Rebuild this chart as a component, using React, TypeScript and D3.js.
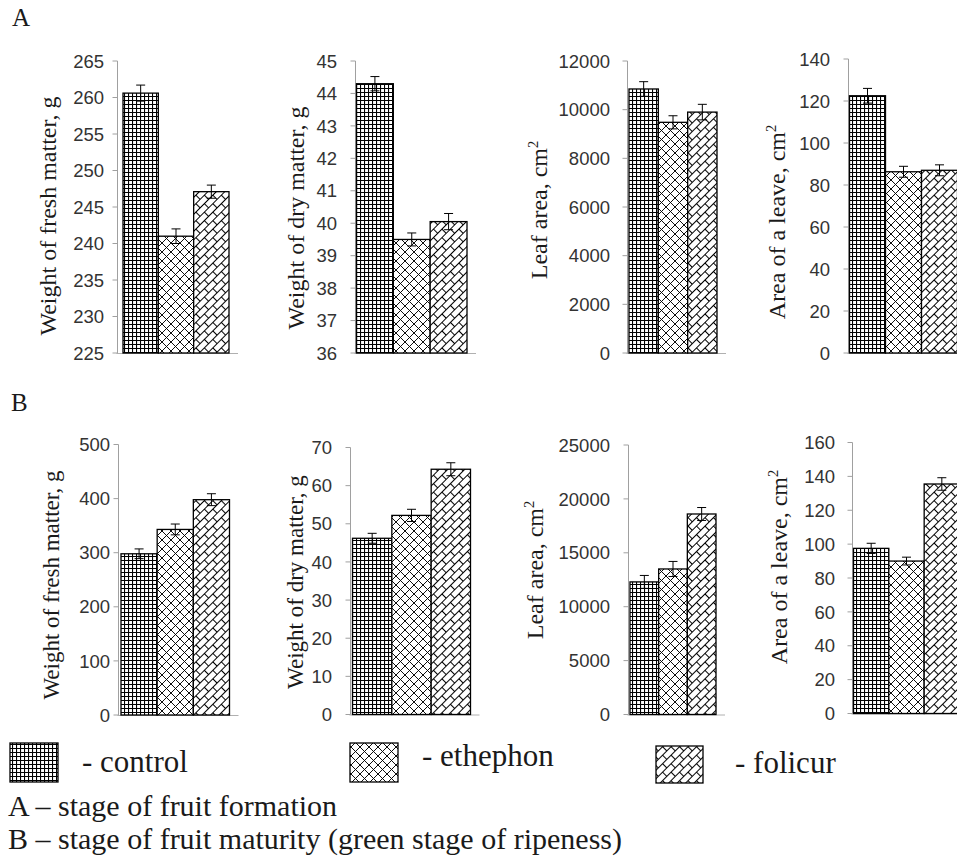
import React from "react";
import * as d3 from "d3";

// ---------- data ----------
const categories = ["control", "ethephon", "folicur"];

const freshA = [260.6, 241.0, 247.1];
const freshAErr = [1.1, 1.0, 0.9];
const dryA = [44.3, 39.5, 40.05];
const dryAErr = [0.22, 0.2, 0.25];
const leafAreaA = [10850, 9480, 9900];
const leafAreaAErr = [300, 270, 320];
const leaveAreaA = [122.5, 86.3, 87.0];
const leaveAreaAErr = [3.5, 2.6, 2.6];

const freshB = [298, 343, 398];
const freshBErr = [9, 10, 11];
const dryB = [46.2, 52.2, 64.3];
const dryBErr = [1.3, 1.6, 1.7];
const leafAreaB = [12300, 13500, 18600];
const leafAreaBErr = [600, 700, 600];
const leaveAreaB = [97.5, 90.0, 135.5];
const leaveAreaBErr = [3.0, 2.3, 3.7];

const ticksFreshA = [225, 230, 235, 240, 245, 250, 255, 260, 265];
const ticksDryA = [36, 37, 38, 39, 40, 41, 42, 43, 44, 45];
const ticksLeafA = [0, 2000, 4000, 6000, 8000, 10000, 12000];
const ticksLeaveA = [0, 20, 40, 60, 80, 100, 120, 140];
const ticksFreshB = [0, 100, 200, 300, 400, 500];
const ticksDryB = [0, 10, 20, 30, 40, 50, 60, 70];
const ticksLeafB = [0, 5000, 10000, 15000, 20000, 25000];
const ticksLeaveB = [0, 20, 40, 60, 80, 100, 120, 140, 160];

const legendLabels = ["- control", "- ethephon", "- folicur"];
const captionA = "A \u2013 stage of fruit formation";
const captionB = "B \u2013 stage of fruit maturity (green stage of ripeness)";

// ---------- layout ----------
type Panel = {
  values: number[];
  errs: number[];
  ticks: number[];
  label: string;
  sup: boolean;
  axisX: number;
  yTop: number;
  yBottom: number;
  barStart: number;
  barEnd: number;
  labelRight: number;
  ylabX: number;
  ylabY: number;
  ylabSize: number;
};

const panels: Panel[] = [
  { values: freshA, errs: freshAErr, ticks: ticksFreshA, label: "Weight of fresh matter, g", sup: false,
    axisX: 117.5, yTop: 61, yBottom: 353, barStart: 123, barEnd: 229, labelRight: 104, ylabX: 56, ylabY: 216, ylabSize: 24 },
  { values: dryA, errs: dryAErr, ticks: ticksDryA, label: "Weight of dry matter, g", sup: false,
    axisX: 355.5, yTop: 61, yBottom: 353, barStart: 356.5, barEnd: 467, labelRight: 337, ylabX: 304, ylabY: 218, ylabSize: 24 },
  { values: leafAreaA, errs: leafAreaAErr, ticks: ticksLeafA, label: "Leaf area, cm", sup: true,
    axisX: 627.5, yTop: 61, yBottom: 353, barStart: 629, barEnd: 717, labelRight: 610, ylabX: 547, ylabY: 210, ylabSize: 24 },
  { values: leaveAreaA, errs: leaveAreaAErr, ticks: ticksLeaveA, label: "Area of a leave, cm", sup: true,
    axisX: 848.5, yTop: 59, yBottom: 353, barStart: 849.5, barEnd: 957.5, labelRight: 830, ylabX: 785, ylabY: 222, ylabSize: 24 },
  { values: freshB, errs: freshBErr, ticks: ticksFreshB, label: "Weight of fresh matter, g", sup: false,
    axisX: 118.5, yTop: 444.5, yBottom: 715, barStart: 121, barEnd: 229.5, labelRight: 110, ylabX: 59, ylabY: 585, ylabSize: 23 },
  { values: dryB, errs: dryBErr, ticks: ticksDryB, label: "Weight of dry matter, g", sup: false,
    axisX: 350.5, yTop: 447.5, yBottom: 714.5, barStart: 352.5, barEnd: 470.5, labelRight: 332, ylabX: 303, ylabY: 582, ylabSize: 23 },
  { values: leafAreaB, errs: leafAreaBErr, ticks: ticksLeafB, label: "Leaf area, cm", sup: true,
    axisX: 628.5, yTop: 445, yBottom: 714.5, barStart: 630, barEnd: 716, labelRight: 610, ylabX: 543, ylabY: 570, ylabSize: 24 },
  { values: leaveAreaB, errs: leaveAreaBErr, ticks: ticksLeaveB, label: "Area of a leave, cm", sup: true,
    axisX: 852.5, yTop: 442.5, yBottom: 713.5, barStart: 853.5, barEnd: 959.5, labelRight: 835, ylabX: 787, ylabY: 567, ylabSize: 24 },
];

const patternIds = ["pGrid", "pCross", "pBrick"];
const fontSans = "'Liberation Sans', Arial, sans-serif";
const fontSerif = "'Liberation Serif', 'Times New Roman', serif";

function PanelView({ p }: { p: Panel }) {
  const y = d3
    .scaleLinear()
    .domain([p.ticks[0], p.ticks[p.ticks.length - 1]])
    .range([p.yBottom, p.yTop]);
  const x = d3.scaleBand<string>().domain(categories).range([p.barStart, p.barEnd]).padding(0);
  const bw = x.bandwidth();
  return (
    <g>
      <line x1={p.axisX} x2={p.axisX} y1={p.yTop} y2={p.yBottom} stroke="#a0a0a0" strokeWidth={1} />
      <line x1={p.axisX - 1} x2={p.barEnd + 9} y1={p.yBottom + 0.5} y2={p.yBottom + 0.5} stroke="#b0b0b0" strokeWidth={1} />
      {p.ticks.map((t) => (
        <g key={t}>
          <line x1={p.axisX - 5} x2={p.axisX} y1={y(t)} y2={y(t)} stroke="#a0a0a0" strokeWidth={1} />
          <text x={p.labelRight} y={y(t)} dy="0.36em" textAnchor="end" fontFamily={fontSans} fontSize={18.5} fill="#333">
            {t}
          </text>
        </g>
      ))}
      {categories.map((c, i) => (
        <rect
          key={c}
          x={x(c)}
          y={y(p.values[i])}
          width={bw}
          height={p.yBottom - y(p.values[i])}
          fill={`url(#${patternIds[i]})`}
          stroke="#000"
          strokeWidth={1.3}
        />
      ))}
      {categories.map((c, i) => {
        const cx = (x(c) as number) + bw / 2;
        const y1 = y(p.values[i] + p.errs[i]);
        const y2 = y(p.values[i] - p.errs[i]);
        return (
          <g key={c + "e"} stroke="#000" strokeWidth={1}>
            <line x1={cx} x2={cx} y1={y1} y2={y2} />
            <line x1={cx - 4.5} x2={cx + 4.5} y1={y1} y2={y1} />
            <line x1={cx - 4.5} x2={cx + 4.5} y1={y2} y2={y2} />
          </g>
        );
      })}
      <text
        transform={`translate(${p.ylabX},${p.ylabY}) rotate(-90)`}
        textAnchor="middle"
        fontFamily={fontSerif}
        fontSize={p.ylabSize}
        fill="#1a1a1a"
      >
        {p.label}
        {p.sup ? (
          <tspan dy={-9} fontSize={p.ylabSize * 0.6}>
            2
          </tspan>
        ) : null}
      </text>
    </g>
  );
}

export default function App() {
  const swatches = [
    { x: 10, y: 743, w: 48, h: 39, tx: 82, ty: 772 },
    { x: 350, y: 743, w: 48, h: 39, tx: 422, ty: 766 },
    { x: 656, y: 746, w: 47, h: 37, tx: 735, ty: 773 },
  ];
  return (
    <div style={{ position: "absolute", left: 0, top: 0 }}>
      <svg width={957} height={859} style={{ display: "block", background: "#fff" }}>
        <defs>
          <pattern id="pGrid" patternUnits="userSpaceOnUse" width={4} height={4}>
            <rect width={4} height={4} fill="#fff" />
            <path d="M0 0.5H4M0.5 0V4" stroke="#000" strokeWidth={1.15} />
          </pattern>
          <pattern id="pCross" patternUnits="userSpaceOnUse" width={9} height={9}>
            <rect width={9} height={9} fill="#fff" />
            <path d="M-1 -1L10 10M10 -1L-1 10" stroke="#000" strokeWidth={0.95} />
          </pattern>
          <pattern id="pBrick" patternUnits="userSpaceOnUse" width={12} height={12} patternTransform="rotate(-45)">
            <rect width={12} height={12} fill="#fff" />
            <path
              d="M-1 0.5H13M-1 6.5H13M0.5 0V6.5M6.5 6.5V12"
              stroke="#000"
              strokeWidth={1.05}
            />
          </pattern>
        </defs>

        <text x={12} y={26} fontFamily={fontSerif} fontSize={25} fill="#1a1a1a">A</text>
        <text x={11} y={411} fontFamily={fontSerif} fontSize={25} fill="#1a1a1a">B</text>

        {panels.map((p, i) => (
          <PanelView key={i} p={p} />
        ))}

        {swatches.map((s, i) => (
          <g key={i}>
            <rect x={s.x} y={s.y} width={s.w} height={s.h} fill={`url(#${patternIds[i]})`} stroke="#000" strokeWidth={1.3} />
            <text x={s.tx} y={s.ty} fontFamily={fontSerif} fontSize={31} fill="#1a1a1a">
              {legendLabels[i]}
            </text>
          </g>
        ))}

        <text x={8} y={816} fontFamily={fontSerif} fontSize={30} fill="#1a1a1a">{captionA}</text>
        <text x={8} y={849} fontFamily={fontSerif} fontSize={30} fill="#1a1a1a">{captionB}</text>
      </svg>
    </div>
  );
}
